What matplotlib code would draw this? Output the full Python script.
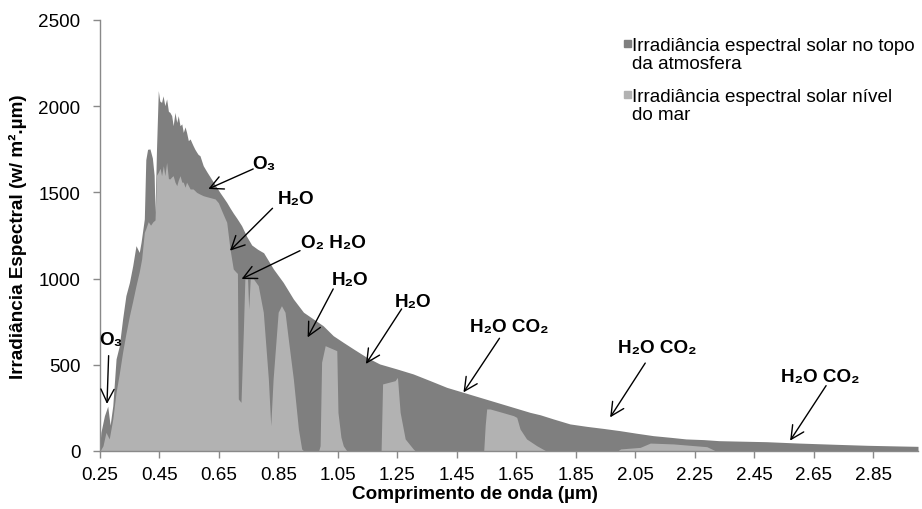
import matplotlib
matplotlib.use("Agg")
import matplotlib.pyplot as plt
from matplotlib.patches import Rectangle

plt.rcParams['font.family'] = ['Liberation Sans', 'DejaVu Sans']
plt.rcParams['font.size'] = 13.6

# Irradiância no topo da atmosfera (µm, W/m².µm)
toa_wl = [0.250, 0.253, 0.265, 0.276, 0.284, 0.293, 0.304, 0.315, 0.326, 0.337,
          0.349, 0.360, 0.371, 0.382, 0.388, 0.399, 0.404, 0.410, 0.418, 0.426,
          0.432, 0.435, 0.440, 0.446, 0.451, 0.457, 0.462, 0.468, 0.474, 0.480,
          0.485, 0.491, 0.496, 0.502, 0.508, 0.513, 0.519, 0.525, 0.530, 0.536,
          0.541, 0.547, 0.553, 0.558, 0.563, 0.569, 0.575, 0.580, 0.586, 0.597,
          0.609, 0.620, 0.631, 0.642, 0.653, 0.665, 0.676, 0.687, 0.698, 0.710,
          0.726, 0.743, 0.760, 0.780, 0.800, 0.833, 0.866, 0.900, 0.934, 0.967,
          1.000, 1.034, 1.068, 1.102, 1.147, 1.190, 1.248, 1.303, 1.360, 1.416,
          1.472, 1.528, 1.584, 1.640, 1.696, 1.730, 1.774, 1.830, 1.886, 1.942,
          1.998, 2.054, 2.110, 2.170, 2.220, 2.280, 2.330, 2.380, 2.490, 2.600,
          2.720, 2.830, 2.940, 3.000]
toa_irr = [40, 108, 205, 260, 150, 263, 534, 611, 766, 901,
           978, 1075, 1191, 1152, 1210, 1346, 1690, 1750, 1752, 1700,
           1600, 1385, 1752, 2090, 2030, 2022, 2060, 2003, 2042, 1970,
           1964, 1945, 1887, 1964, 1906, 1945, 1887, 1897, 1848, 1880,
           1848, 1800, 1810, 1790, 1771, 1750, 1733, 1720, 1713, 1655,
           1620, 1590, 1560, 1530, 1500, 1470, 1442, 1410, 1380, 1350,
           1307, 1245, 1195, 1170, 1150, 1056, 978, 882, 805, 766,
           727, 669, 630, 592, 543, 505, 476, 447, 408, 369,
           340, 311, 282, 253, 224, 210, 186, 157, 143, 131,
           118, 103, 89, 79, 70, 66, 60, 58, 54, 46,
           39, 33, 29, 27]

# Irradiância ao nível do mar
sea_wl = [0.250, 0.260, 0.270, 0.281, 0.293, 0.304, 0.315, 0.326, 0.337, 0.349,
          0.360, 0.371, 0.382, 0.390, 0.399, 0.404, 0.412, 0.420, 0.428, 0.435,
          0.440, 0.446, 0.452, 0.457, 0.463, 0.468, 0.474, 0.480, 0.485, 0.491,
          0.496, 0.502, 0.508, 0.513, 0.519, 0.525, 0.530, 0.536, 0.541, 0.547,
          0.553, 0.563, 0.575, 0.586, 0.597, 0.609, 0.620, 0.637, 0.648, 0.659,
          0.670, 0.676, 0.687, 0.698, 0.706, 0.712, 0.715, 0.724, 0.732, 0.737,
          0.746, 0.750, 0.755, 0.766, 0.782, 0.799, 0.816, 0.824, 0.832, 0.849,
          0.860, 0.872, 0.883, 0.900, 0.917, 0.928, 0.935, 0.985, 0.990, 0.995,
          1.007, 1.046, 1.050, 1.060, 1.068, 1.080, 1.195, 1.200, 1.242, 1.250,
          1.259, 1.276, 1.303, 1.310, 1.540, 1.545, 1.550, 1.561, 1.600, 1.640,
          1.651, 1.662, 1.684, 1.718, 1.750, 1.990, 2.000, 2.066, 2.100, 2.178,
          2.290, 2.306, 2.320, 3.000]
sea_irr = [0, 30, 108, 70, 186, 340, 450, 573, 680, 785,
           870, 959, 1040, 1114, 1268, 1290, 1330, 1310, 1330, 1340,
           1600, 1617, 1640, 1597, 1655, 1597, 1674, 1580, 1578, 1590,
           1597, 1560, 1539, 1570, 1597, 1560, 1559, 1530, 1559, 1540,
           1520, 1520, 1500, 1490, 1481, 1475, 1470, 1462, 1440, 1394,
           1350, 1327, 1172, 1056, 1040, 1030, 302, 282, 700, 998,
           998, 824, 998, 998, 959, 805, 418, 147, 418, 805,
           843, 805, 650, 418, 128, 12, 0, 0, 31, 515,
           611, 582, 224, 80, 30, 0, 0, 389, 408, 427,
           224, 70, 12, 0, 0, 150, 244, 244, 225, 205,
           195, 128, 70, 31, 0, 0, 12, 21, 46, 41,
           25, 12, 0, 0]

x_ticks = [0.25, 0.45, 0.65, 0.85, 1.05, 1.25, 1.45, 1.65, 1.85, 2.05, 2.25,
           2.45, 2.65, 2.85]
y_ticks = [0, 500, 1000, 1500, 2000, 2500]

legend_labels = ["Irradiância espectral solar no topo\nda atmosfera",
                 "Irradiância espectral solar nível\ndo mar"]

# absorption labels: text, text centre, arrow tail, arrow tip
absorptions = [
    ("O₃",      (0.287, 644),  (0.279, 553),  (0.2735, 273)),
    ("O₃",      (0.801, 1665), (0.765, 1636), (0.614, 1520)),
    ("H₂O",     (0.909, 1462), (0.830, 1408), (0.687, 1162)),
    ("O₂ H₂O",  (1.035, 1209), (0.9225, 1162), (0.726, 998)),
    ("H₂O",     (1.092, 995),  (1.034, 940),  (0.948, 659)),
    ("H₂O",     (1.301, 867),  (1.264, 824),  (1.144, 505)),
    ("H₂O CO₂", (1.625, 722),  (1.593, 654),  (1.472, 340)),
    ("H₂O CO₂", (2.123, 603),  (2.083, 510),  (1.965, 195)),
    ("H₂O CO₂", (2.671, 432),  (2.691, 379),  (2.570, 60)),
]

dark = '#7f7f7f'
light = '#b2b2b2'
axis_grey = '#898989'

fig = plt.figure(figsize=(9.22, 5.10), dpi=100)
ax = fig.add_axes([100 / 922, 58 / 510, 818 / 922, 431 / 510])

ax.fill_between(toa_wl, toa_irr, 0, color=dark, linewidth=0, zorder=1)
ax.fill_between(sea_wl, sea_irr, 0, color=light, linewidth=0, zorder=2)

for label, txt, tail, tip in absorptions:
    ax.annotate('', xy=tip, xytext=tail,
                arrowprops=dict(arrowstyle='->,head_length=0.7,head_width=0.35',
                                color='black', lw=1.0, shrinkA=0, shrinkB=0),
                zorder=4)
    ax.text(txt[0], txt[1], label, ha='center', va='center',
            fontweight='bold', fontsize=13.6, zorder=5)

ax.set_xlim(0.25, 3.0)
ax.set_ylim(0, 2500)
ax.set_xticks(x_ticks)
ax.set_xticklabels([f'{t:.2f}' for t in x_ticks])
ax.set_yticks(y_ticks)

for side in ('top', 'right'):
    ax.spines[side].set_visible(False)
for side in ('left', 'bottom'):
    ax.spines[side].set_color(axis_grey)
    ax.spines[side].set_linewidth(1.0)
ax.tick_params(axis='both', direction='out', length=5, width=1.0,
               color=axis_grey, labelsize=13.6)
ax.tick_params(axis='y', pad=9)
ax.tick_params(axis='x', pad=6)

ax.set_xlabel('Comprimento de onda (µm)', fontweight='bold', fontsize=13.6)
ax.xaxis.set_label_coords((475 - 100) / 818, (452 - 495) / 431)
ax.xaxis.label.set_va('center')
ax.set_ylabel('Irradiância Espectral (w/ m².µm)', fontweight='bold', fontsize=13.6)
ax.yaxis.set_label_coords(-(100 - 18) / 818, 0.5)
ax.yaxis.label.set_va('center')

# legend drawn by hand so the swatch lines up with the first text line
for i, (lab, col) in enumerate(zip(legend_labels, [dark, light])):
    top = 38 + i * 51
    fig.patches.append(Rectangle((624 / 922, 1 - (top + 10) / 510), 7 / 922, 7 / 510,
                                 transform=fig.transFigure, color=col))
    fig.text(632 / 922, 1 - top / 510, lab, ha='left', va='top',
             fontsize=13.6, linespacing=1.05)

fig.savefig('out.png', dpi=100)
